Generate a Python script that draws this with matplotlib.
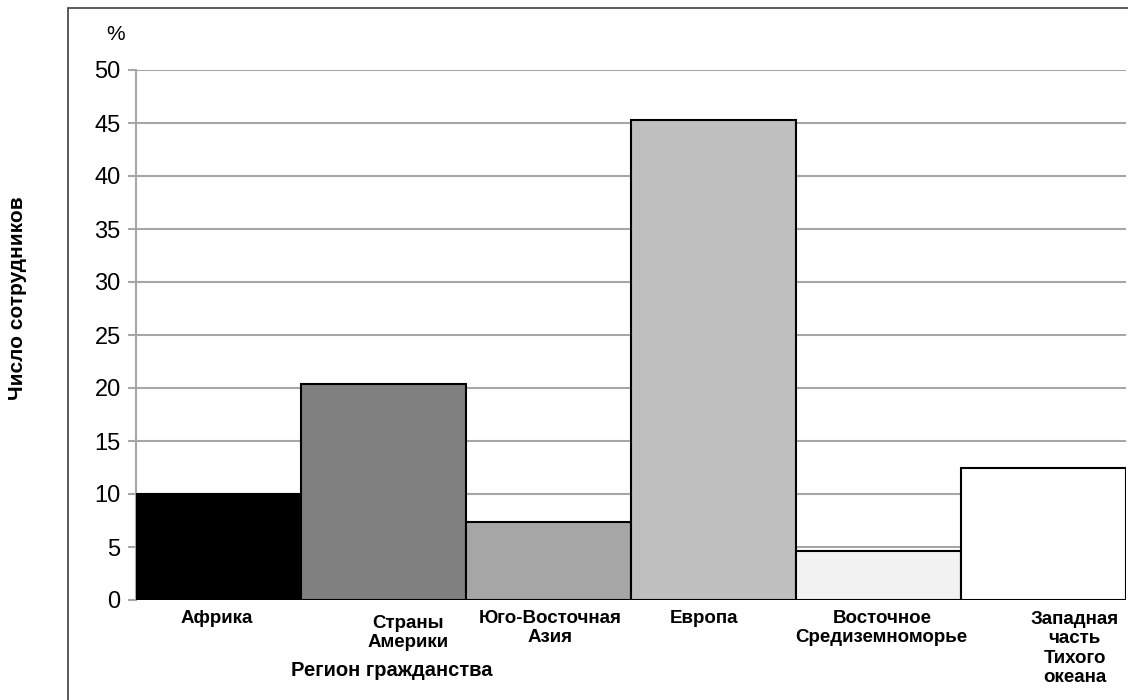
import matplotlib.pyplot as plt
from matplotlib.patches import Rectangle

plt.rcParams['font.family'] = ['Liberation Sans', 'DejaVu Sans']

regions = ['Африка', 'Страны\nАмерики', 'Юго-Восточная\nАзия', 'Европа',
           'Восточное\nСредиземноморье', 'Западная\nчасть\nТихого\nокеана']
values = [10.0, 20.4, 7.4, 45.3, 4.6, 12.5]
colors = ['#000000', '#808080', '#a6a6a6', '#bfbfbf', '#f2f2f2', '#ffffff']
# small shifts of the category labels (x in bar widths, y in data units)
label_dx = [-0.01, 0.15, 0.01, -0.06, 0.02, 0.19]
label_dy = [0.0, -0.5, 0.0, 0.0, 0.0, -0.1]

fig = plt.figure(figsize=(11.28, 7.0), dpi=100)
ax = fig.add_axes([136/1128, 1-600/700, 990/1128, 530/700])

x = list(range(len(regions)))
ax.bar(x, values, width=1.0, color=colors, edgecolor='black', linewidth=1.5, zorder=3)

ax.set_xlim(-0.5, len(regions) - 0.5)
ax.set_ylim(0, 50)
ax.set_yticks(range(0, 51, 5))
ax.yaxis.grid(True, color='#a6a6a6', linewidth=1.5, zorder=0)
ax.set_axisbelow(True)
ax.tick_params(axis='y', labelsize=17, length=6, width=1.5, color='#a6a6a6', pad=5)
ax.set_xticks([])
for s in ['top', 'right', 'bottom']:
    ax.spines[s].set_visible(False)
ax.spines['left'].set_color('#a6a6a6')
ax.spines['left'].set_linewidth(1.5)

for i, name in enumerate(regions):
    ax.text(i + label_dx[i], -0.9 + label_dy[i], name, ha='center', va='top',
            fontsize=13.5, fontweight='bold', linespacing=1.2)

fig.text(116/1128, 1-35/700, '%', ha='center', va='center', fontsize=15)
fig.text(392/1128, 1-671/700, 'Регион гражданства', ha='center', va='center',
         fontsize=14.5, fontweight='bold')
fig.text(18/1128, 1-298/700, 'Число сотрудников', ha='center', va='center',
         rotation=90, fontsize=15, fontweight='bold')

fig.patches.append(Rectangle((68/1128, -0.1), 1.0, 0.1 + 1-8/700, transform=fig.transFigure,
                             fill=False, edgecolor='#404040', linewidth=1.2))

fig.savefig('out.png', dpi=100)
